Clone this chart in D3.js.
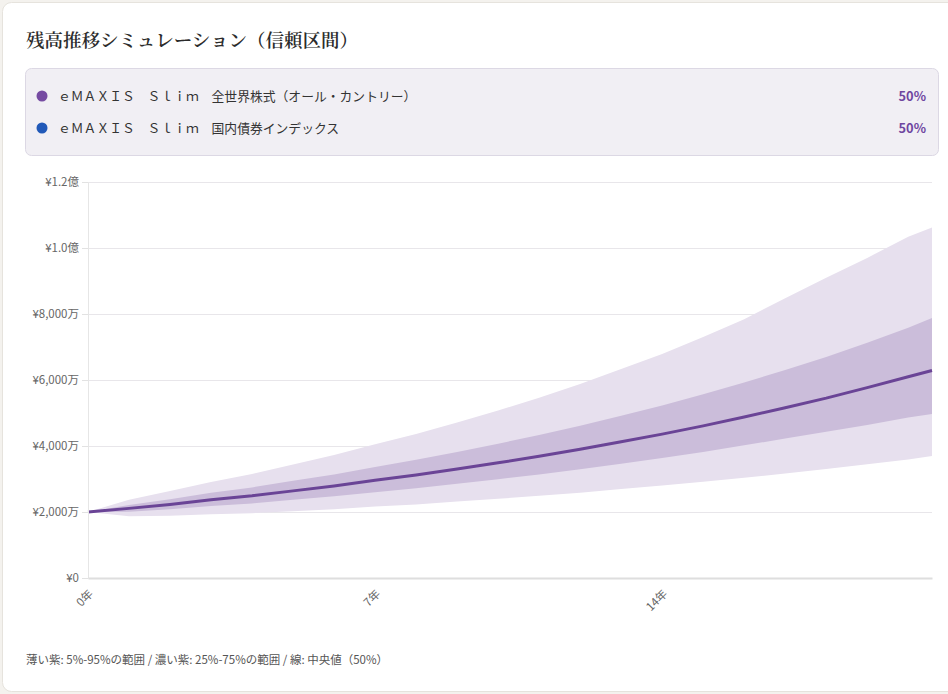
<!DOCTYPE html>
<html><head><meta charset="utf-8">
<script src="https://cdn.jsdelivr.net/npm/d3@7"></script>
<style>
html,body{margin:0;padding:0;background:#f4f2ee;}
svg{display:block;}
</style></head>
<body>
<svg id="chart" width="948" height="694"></svg>
<script>
// ---- data (values in 万円) ----
const years = [0,1,2,3,4,5,6,7,8,9,10,11,12,13,14,15,16,17,18,19,20,20.58];
const p50 = [2000,2110,2230,2370,2490,2640,2790,2960,3120,3300,3490,3690,3900,4130,4360,4610,4880,5160,5450,5770,6100,6290];
const p75 = [2000,2215,2390,2580,2745,2945,3140,3365,3580,3815,4070,4335,4615,4920,5230,5565,5925,6300,6700,7130,7580,7880];
const p25 = [2000,2010,2080,2180,2260,2370,2475,2600,2720,2855,2995,3140,3295,3465,3635,3820,4020,4225,4435,4640,4860,4970];
const p95 = [2000,2375,2640,2910,3155,3440,3730,4050,4360,4710,5075,5465,5880,6330,6790,7300,7840,8480,9100,9700,10340,10620];
const p5  = [2000,1875,1885,1930,1965,2025,2085,2165,2230,2315,2400,2490,2585,2695,2800,2915,3040,3165,3300,3445,3590,3700];
const yTicks = [0,2000,4000,6000,8000,10000,12000];
const yTickLabels = ["¥0","¥2,000万","¥4,000万","¥6,000万","¥8,000万","¥1.0億","¥1.2億"];
const xTicks = [0,7,14];
const xTickLabels = ["0年","7年","14年"];
const funds = ["ｅＭＡＸＩＳ　Ｓｌｉｍ　全世界株式（オール・カントリー）","ｅＭＡＸＩＳ　Ｓｌｉｍ　国内債券インデックス"];
const weights = ["50%","50%"];
const fundColors = ["#764ba2","#2159b8"];
const title = "残高推移シミュレーション（信頼区間）";
const note = "薄い紫: 5%-95%の範囲 / 濃い紫: 25%-75%の範囲 / 線: 中央値（50%）";

const svg = d3.select("#chart");
const FONT = "'Noto Sans CJK JP','Noto Sans',sans-serif";

// card
svg.append("rect").attr("x",2.5).attr("y",2.5).attr("width",990).attr("height",689)
  .attr("rx",9).attr("fill","#fff").attr("stroke","#e6e3dd");

svg.append("text").attr("x",26).attr("y",47).text(title)
  .attr("font-family","'Noto Serif CJK JP','Noto Sans CJK JP',serif").attr("font-size",18.5)
  .attr("font-weight",600).attr("fill","#2b2b2b");

// legend box
svg.append("rect").attr("x",25.5).attr("y",68.5).attr("width",913).attr("height",87)
  .attr("rx",6).attr("fill","#f1eff4").attr("stroke","#dcd8e4");
const lg = svg.append("g");
funds.forEach((f,i)=>{
  const y = 96 + i*32;
  lg.append("circle").attr("cx",42).attr("cy",y).attr("r",5.5).attr("fill",fundColors[i]);
  lg.append("text").attr("x",58).attr("y",y+4.5).text(f)
    .attr("font-family",FONT).attr("font-size",12.8).attr("fill","#333");
  lg.append("text").attr("x",926).attr("y",y+5).attr("text-anchor","end").text(weights[i])
    .attr("font-family",FONT).attr("font-size",12.8).attr("font-weight",700).attr("fill","#6f46a0");
});

// scales
const x = d3.scaleLinear().domain([0,20.58]).range([88,932]);
const y = d3.scaleLinear().domain([0,12000]).range([578,182]);

// grid
svg.append("g").selectAll("line").data(yTicks.slice(1)).join("line")
  .attr("x1",88).attr("x2",932).attr("y1",d=>y(d)+0.5).attr("y2",d=>y(d)+0.5)
  .attr("stroke","#e8e6ea").attr("stroke-width",1);

const idx = d3.range(years.length);
const area = (lo,hi)=>d3.area().x(i=>x(years[i])).y0(i=>y(lo[i])).y1(i=>y(hi[i]));
svg.append("path").datum(idx).attr("d",area(p5,p95)).attr("fill","#e7e0ee");
svg.append("path").datum(idx).attr("d",area(p25,p75)).attr("fill","#cbbdda");
svg.append("path").datum(idx)
  .attr("d",d3.line().x(i=>x(years[i])).y(i=>y(p50[i])))
  .attr("fill","none").attr("stroke","#6a4496").attr("stroke-width",3).attr("stroke-linejoin","round");

// y axis
const yAxis = d3.axisLeft(y).tickValues(yTicks).tickFormat((d,i)=>yTickLabels[i]).tickSize(6).tickPadding(3);
const ya = svg.append("g").attr("transform","translate(88,0)").call(yAxis);
ya.select(".domain").attr("stroke","#e6e6e6");
ya.selectAll(".tick line").attr("stroke","#e2e2e2");
ya.selectAll("text").attr("font-family",FONT).attr("font-size",11.5).attr("fill","#666");

// x axis
const xAxis = d3.axisBottom(x).tickValues(xTicks).tickFormat((d,i)=>xTickLabels[i]).tickSize(0).tickPadding(8);
const xa = svg.append("g").attr("transform","translate(0,578)").call(xAxis);
xa.select(".domain").attr("stroke","#dedede").attr("stroke-width",2);
xa.selectAll("text").attr("font-family",FONT).attr("font-size",11.5).attr("fill","#666")
  .attr("text-anchor","end").attr("dy","0.35em")
  .attr("transform","translate(-3,8) rotate(-45)");

svg.append("text").attr("x",26).attr("y",664).text(note)
  .attr("font-family",FONT).attr("font-size",11.5).attr("fill","#555");
</script>
</body></html>
